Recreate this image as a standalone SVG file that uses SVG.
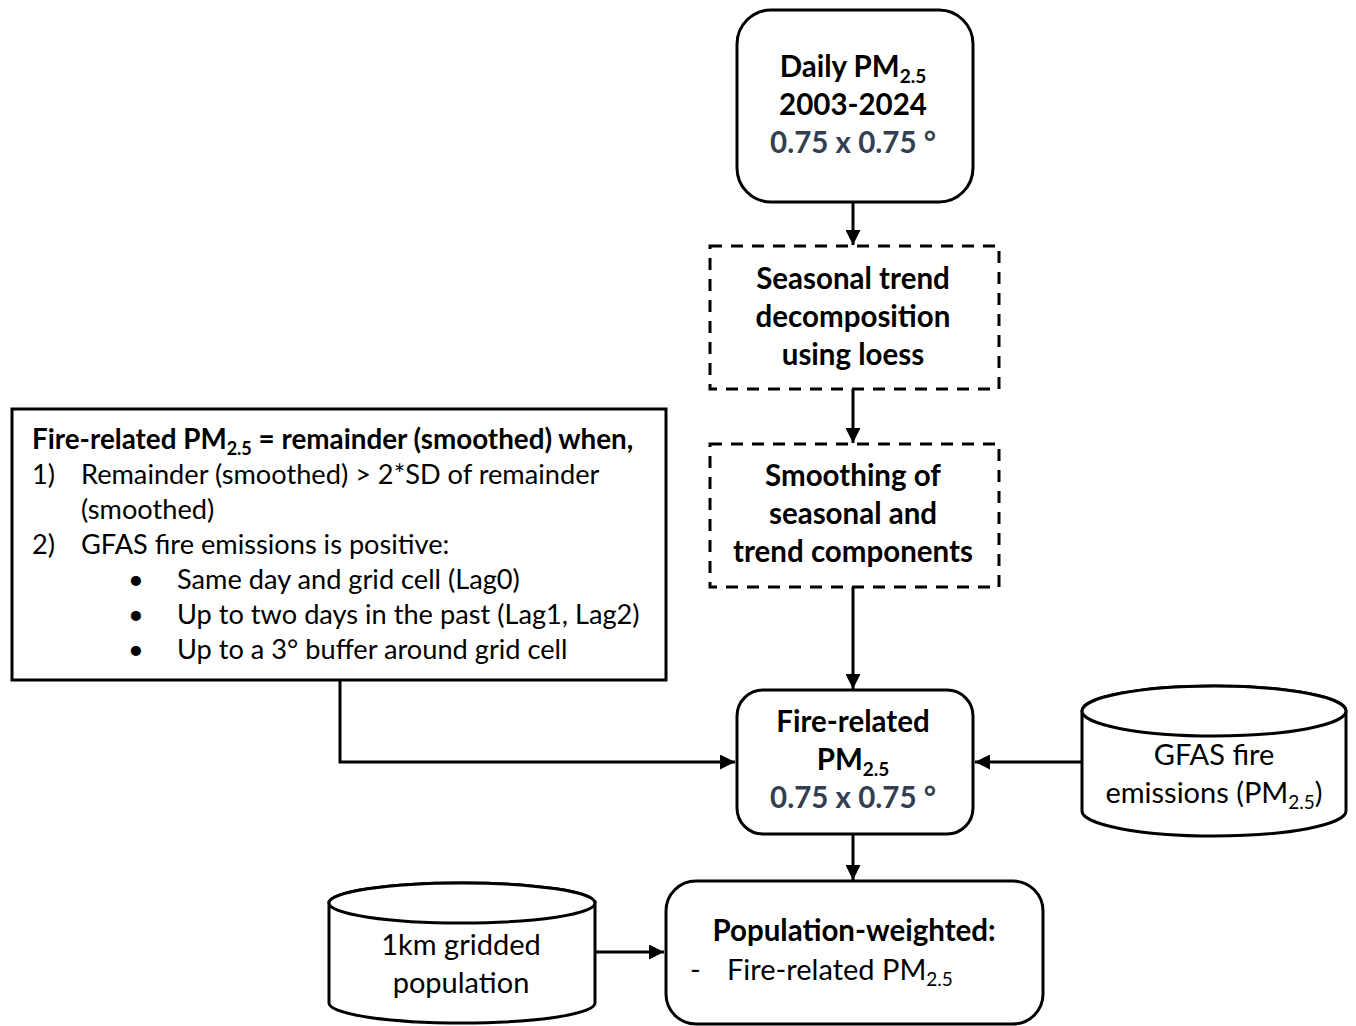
<svg xmlns="http://www.w3.org/2000/svg" width="1356" height="1026" viewBox="0 0 1356 1026">
<style>
  .box{fill:#fff;stroke:#000;stroke-width:3}
  .dash{fill:#fff;stroke:#000;stroke-width:3;stroke-dasharray:12,9}
  .conn{fill:none;stroke:#000;stroke-width:3}
  text{font-family:Lato,"Liberation Sans",sans-serif;fill:#000}
  .b{font-weight:bold;font-size:29.5px}
  .h{font-weight:bold;font-size:27.8px}
  .n{font-size:29px}
  .m{font-size:27.2px}
  .slate{fill:#333f50}
  .c{text-anchor:middle}
</style>
<defs>
  <marker id="ah" viewBox="0 0 10 10" refX="10" refY="5" markerWidth="5" markerHeight="5" orient="auto" markerUnits="strokeWidth">
    <path d="M0,0 L10,5 L0,10 z" fill="#000"/>
  </marker>
</defs>

<g id="connectors">
  <line class="conn" x1="853" y1="202" x2="853" y2="245" marker-end="url(#ah)"/>
  <line class="conn" x1="853" y1="389" x2="853" y2="443" marker-end="url(#ah)"/>
  <line class="conn" x1="853" y1="587" x2="853" y2="689" marker-end="url(#ah)"/>
  <line class="conn" x1="853" y1="834" x2="853" y2="880" marker-end="url(#ah)"/>
  <polyline class="conn" points="340,680 340,762 735,762" marker-end="url(#ah)"/>
  <line class="conn" x1="1082" y1="762" x2="975" y2="762" marker-end="url(#ah)"/>
  <line class="conn" x1="596" y1="952" x2="664" y2="952" marker-end="url(#ah)"/>
</g>

<g id="daily-pm">
  <rect class="box" x="737" y="10" width="236" height="192" rx="34"/>
  <text class="b c" x="853" y="77">Daily PM<tspan font-size="19" dy="6">2.5</tspan></text>
  <text class="b c" x="853" y="115">2003-2024</text>
  <text class="b c slate" x="853" y="153">0.75 x 0.75 °</text>
</g>

<g id="stl">
  <rect class="dash" x="710" y="246" width="289" height="143"/>
  <text class="b c" x="853" y="289">Seasonal trend</text>
  <text class="b c" x="853" y="327">decomposition</text>
  <text class="b c" x="853" y="365">using loess</text>
</g>

<g id="smoothing">
  <rect class="dash" x="710" y="444" width="289" height="143"/>
  <text class="b c" x="853" y="486">Smoothing of</text>
  <text class="b c" x="853" y="524">seasonal and</text>
  <text class="b c" x="853" y="562">trend components</text>
</g>

<g id="criteria">
  <rect class="box" x="12" y="409" width="654" height="271"/>
  <text class="h" x="32" y="449">Fire-related PM<tspan font-size="18" dy="6">2.5</tspan><tspan dy="-6"> = remainder (smoothed) when,</tspan></text>
  <text class="m" x="32" y="484">1)</text>
  <text class="m" x="81" y="484">Remainder (smoothed) &gt; 2*SD of remainder</text>
  <text class="m" x="81" y="519">(smoothed)</text>
  <text class="m" x="32" y="554">2)</text>
  <text class="m" x="81" y="554">GFAS fire emissions is positive:</text>
  <text class="m" x="128" y="589">•</text>
  <text class="m" x="177" y="589">Same day and grid cell (Lag0)</text>
  <text class="m" x="128" y="624">•</text>
  <text class="m" x="177" y="624">Up to two days in the past (Lag1, Lag2)</text>
  <text class="m" x="128" y="659">•</text>
  <text class="m" x="177" y="659">Up to a 3° buffer around grid cell</text>
</g>

<g id="fire-pm">
  <rect class="box" x="737" y="690" width="236" height="144" rx="26"/>
  <text class="b c" x="853" y="732">Fire-related</text>
  <text class="b c" x="853" y="770">PM<tspan font-size="19" dy="6">2.5</tspan></text>
  <text class="b c slate" x="853" y="808">0.75 x 0.75 °</text>
</g>

<g id="gfas">
  <path class="box" d="M1082,711 L1082,811 A132,25 0 0 0 1346,811 L1346,711 A132,25 0 0 0 1082,711 Z"/>
  <ellipse class="box" cx="1214" cy="711" rx="132" ry="25" fill="none"/>
  <text class="n c" x="1214" y="765">GFAS fire</text>
  <text class="n c" x="1214" y="803">emissions (PM<tspan font-size="19" dy="6">2.5</tspan><tspan dy="-6">)</tspan></text>
</g>

<g id="population">
  <path class="box" d="M329,903 L329,1003 A133,20 0 0 0 595,1003 L595,903 A133,20 0 0 0 329,903 Z"/>
  <ellipse class="box" cx="462" cy="903" rx="133" ry="20"/>
  <text class="n c" x="461" y="955">1km gridded</text>
  <text class="n c" x="461" y="993">population</text>
</g>

<g id="pop-weighted">
  <rect class="box" x="666" y="881" width="377" height="143" rx="30"/>
  <text class="b c" x="854" y="941">Population-weighted:</text>
  <text class="n" x="690" y="980">-</text>
  <text class="n" x="727" y="980">Fire-related PM<tspan font-size="19" dy="6">2.5</tspan></text>
</g>
</svg>
